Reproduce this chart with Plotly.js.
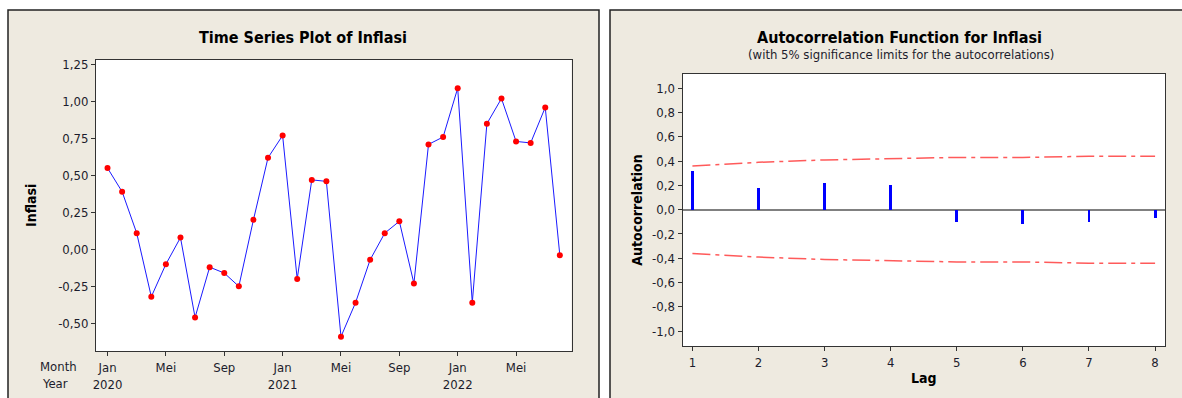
<!DOCTYPE html>
<html>
<head>
<meta charset="utf-8">
<script src="https://cdn.plot.ly/plotly-3.0.1.min.js"></script>
<style>
  html, body { margin: 0; padding: 0; background: #ffffff; }
  #chart { width: 1182px; height: 398px; }
</style>
</head>
<body>
<div id="chart"></div>
<script>
// ---------- Data: Time series of Inflasi (Jan 2020 - Aug 2022) ----------
const monthIndex = [0,1,2,3,4,5,6,7,8,9,10,11,12,13,14,15,16,17,18,19,20,21,22,23,24,25,26,27,28,29,30,31];
const inflasi = [0.55, 0.39, 0.11, -0.32, -0.10, 0.08, -0.46, -0.12, -0.16, -0.25, 0.20, 0.62,
                 0.77, -0.20, 0.47, 0.46, -0.59, -0.36, -0.07, 0.11, 0.19, -0.23, 0.71, 0.76,
                 1.09, -0.36, 0.85, 1.02, 0.73, 0.72, 0.96, -0.04];
const tsTickVals = [0, 4, 8, 12, 16, 20, 24, 28];
const tsTickText = ["Jan<br>2020", "Mei", "Sep", "Jan<br>2021", "Mei", "Sep", "Jan<br>2022", "Mei"];
const tsYTickVals = [1.25, 1.00, 0.75, 0.50, 0.25, 0.00, -0.25, -0.50];
const tsYTickText = ["1,25", "1,00", "0,75", "0,50", "0,25", "0,00", "-0,25", "-0,50"];

// ---------- Data: ACF ----------
const lags = [1, 2, 3, 4, 5, 6, 7, 8];
const acf = [0.32, 0.18, 0.22, 0.20, -0.10, -0.12, -0.10, -0.07];
const upperLimit = [0.36, 0.39, 0.41, 0.42, 0.43, 0.43, 0.44, 0.44];
const lowerLimit = [-0.36, -0.39, -0.41, -0.42, -0.43, -0.43, -0.44, -0.44];
const acfYTickVals = [1.0, 0.8, 0.6, 0.4, 0.2, 0.0, -0.2, -0.4, -0.6, -0.8, -1.0];
const acfYTickText = ["1,0", "0,8", "0,6", "0,4", "0,2", "0,0", "-0,2", "-0,4", "-0,6", "-0,8", "-1,0"];

// ---------- Layout helpers ----------
const W = 1182, H = 398;
const px = v => v / W;
const py = v => 1 - v / H;
const FONT = "Tahoma, 'DejaVu Sans Condensed', 'DejaVu Sans', sans-serif";
const TXT = "#1c1c2c";
const BEIGE = "#eeeae0";

const traces = [
  {
    x: monthIndex, y: inflasi, type: "scatter", mode: "lines+markers",
    xaxis: "x", yaxis: "y",
    line: { color: "#1a1aff", width: 1 },
    marker: { color: "#ff0000", size: 6 },
    hoverinfo: "skip", showlegend: false
  },
  {
    x: lags, y: acf, type: "bar", xaxis: "x2", yaxis: "y2",
    width: 0.045, marker: { color: "#0000ff", line: { width: 0 } },
    hoverinfo: "skip", showlegend: false
  },
  {
    x: lags, y: upperLimit, type: "scatter", mode: "lines", xaxis: "x2", yaxis: "y2",
    line: { color: "rgb(255,90,90)", width: 1.5, dash: "18px,5px,4px,5px" },
    hoverinfo: "skip", showlegend: false
  },
  {
    x: lags, y: lowerLimit, type: "scatter", mode: "lines", xaxis: "x2", yaxis: "y2",
    line: { color: "rgb(255,90,90)", width: 1.5, dash: "18px,5px,4px,5px" },
    hoverinfo: "skip", showlegend: false
  }
];

const axisCommon = {
  showgrid: false, zeroline: false, showline: true, mirror: true,
  linecolor: "#333333", linewidth: 1, ticks: "outside", ticklen: 4,
  tickcolor: "#333333", tickfont: { family: FONT, size: 13, color: TXT },
  fixedrange: true
};

const layout = {
  width: W, height: H,
  margin: { l: 0, r: 0, t: 0, b: 0, pad: 0 },
  paper_bgcolor: "#ffffff",
  plot_bgcolor: "#ffffff",
  showlegend: false,
  bargap: 0,
  xaxis: Object.assign({}, axisCommon, {
    domain: [px(96), px(571.5)], anchor: "y",
    range: [-0.79, 31.8],
    tickmode: "array", tickvals: tsTickVals, ticktext: tsTickText
  }),
  yaxis: Object.assign({}, axisCommon, {
    domain: [py(351), py(59.5)], anchor: "x",
    range: [-0.687, 1.284],
    tickmode: "array", tickvals: tsYTickVals, ticktext: tsYTickText,
    title: { text: "<b>Inflasi</b>", font: { family: FONT, size: 14, color: "#000" }, standoff: 18 }
  }),
  xaxis2: Object.assign({}, axisCommon, {
    domain: [px(682.5), px(1165)], anchor: "y2",
    range: [0.85, 8.15],
    tickmode: "array", tickvals: lags, ticktext: lags.map(String),
    title: { text: "<b>Lag</b>", font: { family: FONT, size: 14, color: "#000" }, standoff: 4 }
  }),
  yaxis2: Object.assign({}, axisCommon, {
    domain: [py(346), py(74)], anchor: "x2",
    range: [-1.122, 1.117],
    tickmode: "array", tickvals: acfYTickVals, ticktext: acfYTickText,
    zeroline: true, zerolinecolor: "#808080", zerolinewidth: 2,
    title: { text: "<b>Autocorrelation</b>", font: { family: FONT, size: 14, color: "#000" }, standoff: 6 }
  }),
  shapes: [
    // panel backgrounds
    { type: "rect", xref: "paper", yref: "paper", x0: px(8), x1: px(599), y0: py(400), y1: py(10),
      fillcolor: BEIGE, line: { color: "#222222", width: 1.5 }, layer: "below" },
    { type: "rect", xref: "paper", yref: "paper", x0: px(610), x1: px(1190), y0: py(400), y1: py(10),
      fillcolor: BEIGE, line: { color: "#222222", width: 1.5 }, layer: "below" },
    // white plot areas
    { type: "rect", xref: "x domain", yref: "y domain", x0: 0, x1: 1, y0: 0, y1: 1,
      fillcolor: "#ffffff", line: { width: 0 }, layer: "below" },
    { type: "rect", xref: "x2 domain", yref: "y2 domain", x0: 0, x1: 1, y0: 0, y1: 1,
      fillcolor: "#ffffff", line: { width: 0 }, layer: "below" }
  ],
  annotations: [
    { text: "<b>Time Series Plot of Inflasi</b>", xref: "paper", yref: "paper",
      x: px(303), y: py(38), xanchor: "center", yanchor: "middle", showarrow: false,
      font: { family: FONT, size: 16, color: "#000" } },
    { text: "<b>Autocorrelation Function for Inflasi</b>", xref: "paper", yref: "paper",
      x: px(900), y: py(38), xanchor: "center", yanchor: "middle", showarrow: false,
      font: { family: FONT, size: 16, color: "#000" } },
    { text: "(with 5% significance limits for the autocorrelations)", xref: "paper", yref: "paper",
      x: px(901), y: py(55), xanchor: "center", yanchor: "middle", showarrow: false,
      font: { family: FONT, size: 13, color: TXT } },
    { text: "Month", xref: "paper", yref: "paper",
      x: px(79), y: py(366), xanchor: "right", yanchor: "middle", showarrow: false,
      font: { family: FONT, size: 13, color: TXT } },
    { text: "Year", xref: "paper", yref: "paper",
      x: px(70), y: py(383), xanchor: "right", yanchor: "middle", showarrow: false,
      font: { family: FONT, size: 13, color: TXT } }
  ]
};

Plotly.newPlot("chart", traces, layout, { staticPlot: true, displayModeBar: false });
</script>
</body>
</html>
